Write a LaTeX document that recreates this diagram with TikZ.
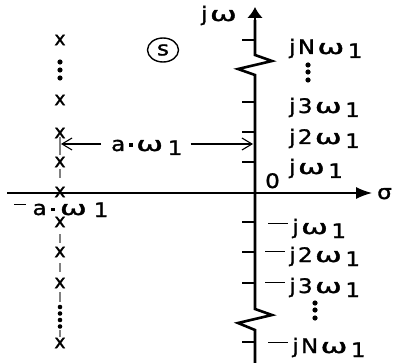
\documentclass[tikz,border=0pt]{standalone}
\usepackage{fontspec}
\setmainfont{DejaVu Sans}[FakeBold=1.3]
\usetikzlibrary{arrows.meta,shapes.geometric}
\newcommand\Om{\scalebox{1.4}[1]{ω}}
\newcommand\wo{\kern2pt\Om\kern3pt\raisebox{-4pt}{1}}
\newcommand\W[1]{\scalebox{1.15}[1]{#1}}
\newcommand\mn{\rule[10pt]{17pt}{1.4pt}\kern4pt}
\newcommand\sq{\kern3pt\rule[4pt]{3.5pt}{3.5pt}\kern3pt}
\tikzset{
  lab/.style={anchor=base west, inner sep=0pt, font=\fontsize{20}{24}\selectfont},
  pole/.style={inner sep=0pt, font=\fontsize{19}{20}\selectfont},
  tickmark/.style={line width=1.3pt},
  dimarrow/.style={line width=1.1pt, -{Straight Barb[length=10pt,width=12pt]}},
  guide/.style={gray, line width=1.1pt},
  dotmark/.style={fill=black, draw=none}
}
\begin{document}
\begin{tikzpicture}[x=1pt,y=-1pt]
\useasboundingbox (0,0) rectangle (398,363);
% axes
\coordinate (xs) at (7,193);
\coordinate (xe) at (372,193);
\coordinate (yb) at (255,363);
\coordinate (ye) at (255,7);
\draw[line width=1.4pt,-{Latex[length=16pt,width=12pt]}] (xs) -- (xe);
\draw[line width=2.6pt, line join=miter] (yb) -- (255,330) -- (238,323) -- (272,315) -- (255,309)
  -- (255,75) -- (238,69) -- (272,61) -- (255,55) -- (255,20);
\draw[line width=2.6pt,-{Latex[length=11pt,width=16pt]}] (255,22) -- (ye);
% ticks
\foreach \y in {40,102,132,162,222,252,283,342}
  \draw[tickmark] (242,\y) -- (255,\y);
% labels
\node[lab] (jw) at (201,21) {\W{j\kern2pt\Om}};
\node[lab] (sig) at (377,199) {\W{σ}};
\node[lab] (zero) at (265,188) {\W{0}};
\node[lab] (p4) at (289,54) {\W{j\kern2pt N\wo}};
\node[lab] (p3) at (289,113) {\W{j\kern2pt 3\wo}};
\node[lab] (p2) at (289,144) {\W{j\kern2pt 2\wo}};
\node[lab] (p1) at (289,174) {\W{j\wo}};
\node[lab] (n1) at (268,234) {\W{\mn j\wo}};
\node[lab] (n2) at (265,262) {\W{\mn j\kern2pt 2\wo}};
\node[lab] (n3) at (265,293) {\W{\mn j\kern2pt 3\wo}};
\node[lab] (n4) at (268,353) {\W{\mn j\kern2pt N\wo}};
% dots right
\foreach \y in {65,72,80} \fill[dotmark] (308,\y) circle (2.6pt);
\foreach \y in {303,310,318} \fill[dotmark] (315,\y) circle (2.6pt);
% s-plane mark
\node[draw, ellipse, line width=1.4pt, minimum width=31pt, minimum height=24pt, inner sep=0pt,
  font=\fontsize{20}{22}\selectfont] (s) at (163,50) {\W{s}};
% left poles
\draw[guide] (60,137) -- (60,155);
\foreach \a/\b in {169/178,234/243,263/272,292/302,330/337}
  \draw[guide] (60,\a) -- (60,\b);
\foreach \y in {40,100,133,162,192,222,252,283,343}
  \node[pole] at (60,\y) {x};
\foreach \y in {62,70,78} \fill[dotmark] (60,\y) circle (2.6pt);
\foreach \y in {307,313.5,320,326.5} \fill[dotmark] (60,\y) circle (2.3pt);
% dimension
\coordinate (al) at (61,144);
\coordinate (ar) at (253,144);
\node[lab] (aw) at (111,151) {\W{a\sq\Om\kern4pt\raisebox{-4pt}{1}}};
\draw[dimarrow] ([xshift=-10pt]aw.west |- al) -- (al);
\draw[dimarrow] ([xshift=8pt]aw.east |- ar) -- (ar);
\node[lab] (naw) at (14,215) {\W{\rule[10pt]{10pt}{1.4pt}\kern6pt a\kern1pt\sq\kern1pt\Om\kern6pt\raisebox{-2pt}{1}}};
\end{tikzpicture}
\end{document}
